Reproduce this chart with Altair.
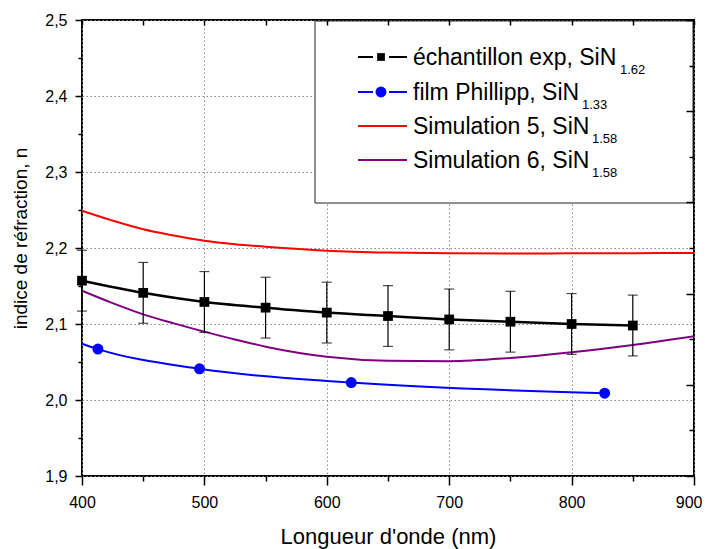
import altair as alt
import pandas as pd

# ---------------- data ----------------
wl_exp = [400, 450, 500, 550, 600, 650, 700, 750, 800, 850]
n_exp = [2.157, 2.141, 2.129, 2.1215, 2.115, 2.1105, 2.106, 2.103, 2.100, 2.098]
err_exp = [0.04, 0.04, 0.04, 0.04, 0.04, 0.04, 0.04, 0.04, 0.04, 0.04]

wl_phil_line = [400, 413, 496, 620, 827]
n_phil_line = [2.074, 2.067, 2.041, 2.023, 2.009]
wl_phil_pts = [413, 496, 620, 827]
n_phil_pts = [2.067, 2.041, 2.023, 2.009]

wl_sim = [400, 425, 450, 475, 500, 525, 550, 600, 650, 700, 750, 800, 850, 900]
n_sim5 = [2.249, 2.236, 2.2246, 2.2165, 2.2096, 2.205, 2.2017, 2.1965, 2.1940,
          2.1930, 2.1928, 2.1930, 2.1932, 2.1934]
n_sim6 = [2.1438, 2.1275, 2.1127, 2.1008, 2.0899, 2.0795, 2.0702, 2.0570, 2.0517,
          2.0510, 2.0553, 2.0628, 2.0724, 2.0838]

legend_labels = ["échantillon exp, SiN", "film Phillipp, SiN", "Simulation 5, SiN", "Simulation 6, SiN"]
legend_subs = ["1.62", "1.33", "1.58", "1.58"]
series_colors = ["#000000", "#0000FF", "#FF0000", "#800080"]

x_major = [400, 500, 600, 700, 800, 900]
x_minor = [450, 550, 650, 750, 850]
x_top = [400, 450, 500, 550, 600, 650, 700, 750, 800, 850, 900]
y_major = [1.9, 2.0, 2.1, 2.2, 2.3, 2.4, 2.5]
y_minor = [1.95, 2.05, 2.15, 2.25, 2.35, 2.45]
y_right_major = [1.90, 2.02, 2.14, 2.26, 2.38, 2.50]
y_right_minor = [1.96, 2.08, 2.20, 2.32, 2.44]

# ---------------- layout ----------------
W, H = 612, 456
FONT = "Liberation Sans"

XS = alt.Scale(domain=[400, 900], nice=False, zero=False)
YS = alt.Scale(domain=[1.9, 2.5], nice=False, zero=False)

df_exp = pd.DataFrame({"wl": wl_exp, "n": n_exp, "err": err_exp})
df_exp["lo"] = df_exp["n"] - df_exp["err"]
df_exp["hi"] = df_exp["n"] + df_exp["err"]
df_phil_line = pd.DataFrame({"wl": wl_phil_line, "n": n_phil_line})
df_phil_pts = pd.DataFrame({"wl": wl_phil_pts, "n": n_phil_pts})
df_sim = pd.DataFrame({"wl": wl_sim, "n5": n_sim5, "n6": n_sim6})
dummy = pd.DataFrame({"d": [0]})

last_x = "datum.value == 900"
ax_x_main = alt.Axis(orient="bottom", values=x_major, tickSize=9, tickWidth=1.5,
                     tickColor="black", domain=False, labelFontSize=16, labelPadding=9,
                     labelColor="black", labelFlush=False, labelOverlap=False,
                     labelAlign={"condition": {"test": last_x, "value": "right"}, "value": "center"},
                     labelOffset={"condition": {"test": last_x, "value": 8}, "value": 0},
                     grid=True, gridDash=[1.5, 2.5], gridColor="#888888", gridWidth=1,
                     title="Longueur d'onde (nm)", titleFontSize=22, titleFontWeight="normal",
                     titleColor="black", titleX=W / 2, titleY=67, titleAlign="center",
                     titleBaseline="alphabetic")
ax_x_minor = alt.Axis(orient="bottom", values=x_minor, tickSize=5, tickWidth=1.5,
                      tickColor="black", domain=False, labels=False, grid=False, title="")
ax_x_top = alt.Axis(orient="bottom", offset=-H, values=x_top, tickSize=5, tickWidth=1.5,
                    tickColor="black", domain=False, labels=False, grid=False, title="",
                    zindex=1)

ax_y_main = alt.Axis(orient="left", values=y_major, tickSize=7, tickWidth=1.5,
                     tickColor="black", domain=False, labelFontSize=16, labelPadding=8,
                     labelColor="black", labelFlush=False, labelOverlap=False,
                     labelExpr="replace(format(datum.value, '.1f'), '.', ',')",
                     grid=True, gridDash=[1.5, 2.5], gridColor="#888888", gridWidth=1,
                     title="indice de réfraction, n", titleFontSize=19, titleFontWeight="normal",
                     titleColor="black", titleX=-62, titleY=218, titleAngle=270,
                     titleAlign="center", titleBaseline="middle")
ax_y_minor = alt.Axis(orient="left", values=y_minor, tickSize=4, tickWidth=1.5,
                      tickColor="black", domain=False, labels=False, grid=False, title="")
ax_y_right_major = alt.Axis(orient="left", offset=-W, values=y_right_major, tickSize=8,
                            tickWidth=1.5, tickColor="black", domain=False, labels=False,
                            grid=False, title="", zindex=1)
ax_y_right_minor = alt.Axis(orient="left", offset=-W, values=y_right_minor, tickSize=5,
                            tickWidth=1.5, tickColor="black", domain=False, labels=False,
                            grid=False, title="", zindex=1)

red = alt.Chart(df_sim).mark_line(color=series_colors[2], strokeWidth=2, interpolate="monotone").encode(
    x=alt.X("wl:Q", scale=XS, axis=ax_x_main),
    y=alt.Y("n5:Q", scale=YS, axis=ax_y_main),
)
purple = alt.Chart(df_sim).mark_line(color=series_colors[3], strokeWidth=2, interpolate="monotone").encode(
    x=alt.X("wl:Q", scale=XS, axis=ax_x_minor),
    y=alt.Y("n6:Q", scale=YS, axis=ax_y_minor),
)
blue_line = alt.Chart(df_phil_line).mark_line(color=series_colors[1], strokeWidth=2, interpolate="monotone").encode(
    x=alt.X("wl:Q", scale=XS, axis=ax_x_top),
    y=alt.Y("n:Q", scale=YS, axis=ax_y_right_major),
)
blue_pts = alt.Chart(df_phil_pts).mark_circle(color=series_colors[1], size=120, opacity=1).encode(
    x=alt.X("wl:Q", scale=XS, axis=None),
    y=alt.Y("n:Q", scale=YS, axis=ax_y_right_minor),
)
err_rule = alt.Chart(df_exp).mark_rule(color="black", strokeWidth=1.2).encode(
    x=alt.X("wl:Q", scale=XS, axis=None),
    y=alt.Y("lo:Q", scale=YS, axis=None),
    y2="hi:Q",
)
cap_hi = alt.Chart(df_exp).mark_tick(color="black", orient="horizontal", size=10, thickness=1.2).encode(
    x=alt.X("wl:Q", scale=XS, axis=None),
    y=alt.Y("hi:Q", scale=YS, axis=None),
)
cap_lo = alt.Chart(df_exp).mark_tick(color="black", orient="horizontal", size=10, thickness=1.2).encode(
    x=alt.X("wl:Q", scale=XS, axis=None),
    y=alt.Y("lo:Q", scale=YS, axis=None),
)
black_line = alt.Chart(df_exp).mark_line(color="black", strokeWidth=2.5, interpolate="monotone").encode(
    x=alt.X("wl:Q", scale=XS, axis=None),
    y=alt.Y("n:Q", scale=YS, axis=None),
)
black_pts = alt.Chart(df_exp).mark_square(color="black", size=95, opacity=1).encode(
    x=alt.X("wl:Q", scale=XS, axis=None),
    y=alt.Y("n:Q", scale=YS, axis=None),
)

# ---------------- legend ----------------
legend_layers = [
    alt.Chart(dummy).mark_rect(fill="white", stroke="#222222", strokeWidth=1).encode(
        x=alt.value(233), x2=alt.value(611), y=alt.value(1), y2=alt.value(183))
]
row_y = [37, 72, 106, 140]
sub_x = [538, 500, 510, 510]
for i in range(4):
    cy = row_y[i]
    if i < 2:
        legend_layers.append(alt.Chart(dummy).mark_rule(color=series_colors[i], strokeWidth=2).encode(
            x=alt.value(276), x2=alt.value(291), y=alt.value(cy)))
        legend_layers.append(alt.Chart(dummy).mark_rule(color=series_colors[i], strokeWidth=2).encode(
            x=alt.value(307), x2=alt.value(325), y=alt.value(cy)))
        shape = "square" if i == 0 else "circle"
        legend_layers.append(alt.Chart(dummy).mark_point(shape=shape, filled=True, opacity=1,
                                                         color=series_colors[i],
                                                         size=60 if i == 0 else 120).encode(
            x=alt.value(299), y=alt.value(cy)))
    else:
        legend_layers.append(alt.Chart(dummy).mark_rule(color=series_colors[i], strokeWidth=2).encode(
            x=alt.value(276), x2=alt.value(325), y=alt.value(cy)))
    legend_layers.append(alt.Chart(dummy).mark_text(align="left", baseline="alphabetic", fontSize=23,
                                                    font=FONT, color="black").encode(
        x=alt.value(331), y=alt.value(cy + 8), text=alt.value(legend_labels[i])))
    legend_layers.append(alt.Chart(dummy).mark_text(align="left", baseline="alphabetic", fontSize=13,
                                                    font=FONT, color="black").encode(
        x=alt.value(sub_x[i]), y=alt.value(cy + 17), text=alt.value(legend_subs[i])))

chart = alt.layer(
    red, purple, blue_line, blue_pts, err_rule, cap_hi, cap_lo, black_line, black_pts,
    *legend_layers
).resolve_axis(x="independent", y="independent").properties(
    width=W, height=H,
    autosize=alt.AutoSizeParams(type="none"),
    padding={"left": 74, "top": 12, "right": 8, "bottom": 73},
    background="white",
).configure(font=FONT).configure_view(stroke="black", strokeWidth=2)

chart.save("out.html", embed_options={"renderer": "svg", "actions": False})
